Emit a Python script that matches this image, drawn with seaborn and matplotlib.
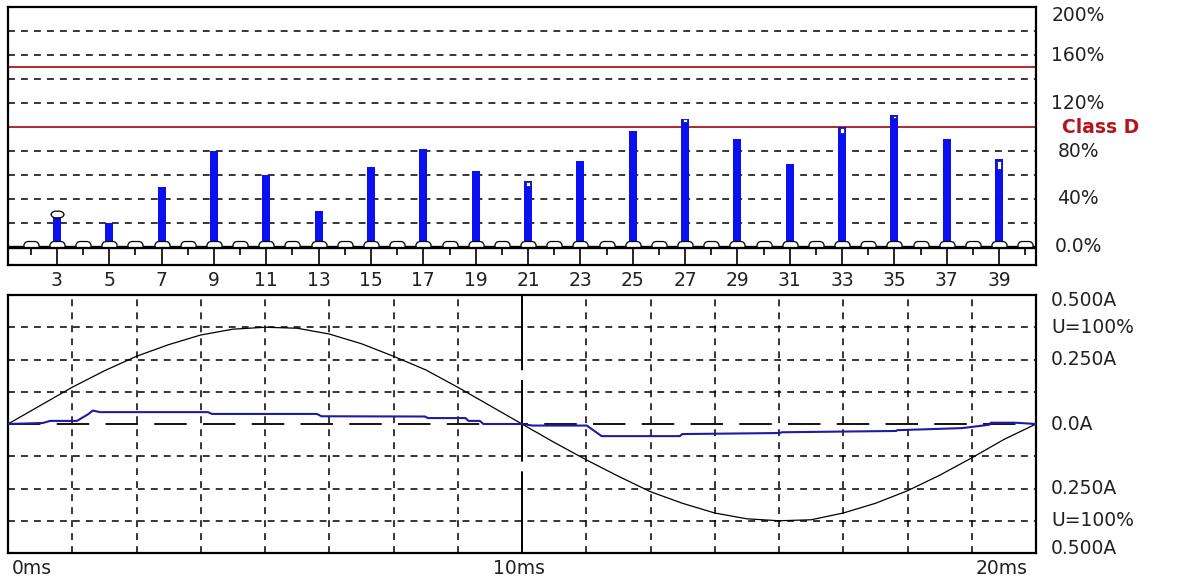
import matplotlib
matplotlib.use("Agg")
import matplotlib.pyplot as plt
from matplotlib.path import Path
import pandas as pd
import seaborn as sns

sns.set_style("white")
plt.rcParams["font.family"] = ["DejaVu Sans"]

# ---- harmonic spectrum (% of Class D limit) ----
harmonics = [3, 5, 7, 9, 11, 13, 15, 17, 19, 21, 23, 25, 27, 29, 31, 33, 35, 37, 39]
harm_pct = [25, 20, 50, 80, 60, 30, 67, 82, 63, 55, 72, 97, 107, 90, 69, 100, 110, 90, 73]
cap_harmonics = list(range(2, 41))
even_harmonics = list(range(2, 41, 2))
limit_h = [3]
limit_pct = [27.5]
mark_h = [21, 27, 33, 35, 39]
mark_lo = [51, 104, 95, 107.5, 65]
mark_hi = [54, 106.5, 99, 109, 72]
red_limits = [100, 150]
pct_grid = [20, 40, 60, 80, 120, 140, 160, 180]
pct_ticks = [200, 160, 120, 80, 40, 0]
pct_labels = ["200%", "160%", "120%", "80%", "40%", "0.0%"]

# ---- waveforms over one period ----
volt_t = [0, 0.625, 1.25, 1.875, 2.5, 3.125, 3.75, 4.375, 5.0, 5.625, 6.25, 6.875,
          7.5, 8.125, 8.75, 9.375, 10.0, 10.625, 11.25, 11.875, 12.5, 13.125, 13.75,
          14.375, 15.0, 15.625, 16.25, 16.875, 17.5, 18.125, 18.75, 19.375, 20.0]
volt_pct = [0, 19, 38, 55, 70, 82, 92, 98, 100, 99, 93, 83,
            70, 56, 38, 19, 0, -19, -37, -54, -70, -82, -92,
            -98, -100, -99, -92, -82, -69, -53, -35, -16, 0]
curr_t = [0, 0.68, 0.82, 1.34, 1.56, 1.65, 1.79, 3.89, 3.97, 6.01,
          6.10, 8.11, 8.17, 8.90, 8.96, 9.18, 9.25, 10.0, 10.2, 11.26,
          11.55, 13.07, 13.12, 15.01, 15.06, 17.28, 17.30, 18.55, 18.60, 19.09,
          19.12, 19.60, 20.0]
curr_a = [0, 0.004, 0.012, 0.012, 0.038, 0.052, 0.046, 0.046, 0.039, 0.039,
          0.030, 0.029, 0.023, 0.023, 0.012, 0.012, 0.0, 0.0, -0.006, -0.006,
          -0.047, -0.047, -0.039, -0.035, -0.032, -0.027, -0.024, -0.016, -0.015, -0.003,
          0.005, 0.005, 0.0]
amp_grid = [0.375, 0.25, 0.125, -0.125, -0.25, -0.375]
amp_ticks = [0.5, 0.375, 0.25, 0.0, -0.25, -0.375, -0.5]
amp_labels = ["0.500A", "U=100%", "0.250A", "0.0A", "0.250A", "U=100%", "0.500A"]
time_grid = [1.25, 2.5, 3.75, 5.0, 6.25, 7.5, 8.75, 11.25, 12.5, 13.75, 15.0, 16.25, 17.5, 18.75]
time_ticks = [0, 10, 20]
time_labels = ["0ms", "10ms", "20ms"]

U_SCALE = 0.375  # where U=100% sits on the current axis
BLUE = "#0a10f0"
NAVY = "#1c1ca8"
RED = "#b3141e"
TXT = "#222222"
FS = 13.5
GRID_LS = (0, (4.5, 4))

fig = plt.figure(figsize=(11.81, 5.83), dpi=100)
ax1 = fig.add_axes([8 / 1181, 1 - 265 / 583, 1028 / 1181, 258 / 583])
ax2 = fig.add_axes([8 / 1181, 1 - 553 / 583, 1028 / 1181, 258 / 583])

# ---------- top: harmonics ----------
for v in pct_grid:
    ax1.axhline(v, color="black", lw=1.1, ls=GRID_LS, zorder=1)
for v in red_limits:
    ax1.axhline(v, color=RED, lw=1.3, zorder=2)

df_h = pd.DataFrame({"h": harmonics, "pct": harm_pct})
sns.barplot(data=df_h, x="h", y="pct", native_scale=True, width=0.15, color=BLUE,
            saturation=1, errorbar=None, linewidth=0, ax=ax1, zorder=3)

ax1.bar(mark_h, [hi - lo for lo, hi in zip(mark_lo, mark_hi)], bottom=mark_lo,
        width=0.13, color="white", edgecolor="#20208a", linewidth=0.6, zorder=4)

ax1.vlines(harmonics, -15, 0, color="black", lw=1.2, zorder=3)
ax1.vlines(even_harmonics, -6.5, 0, color="black", lw=1.2, zorder=3)
ax1.axhline(0, color="black", lw=2.4, zorder=4)

cap = Path([(-1, 0), (1, 0), (1, 0.4), (0.8, 0.7), (0.5, 0.8), (-0.5, 0.8),
            (-0.8, 0.7), (-1, 0.4), (-1, 0)])
ax1.plot(cap_harmonics, [0] * len(cap_harmonics), ls="none", marker=cap, ms=10.8,
         mfc="white", mec="black", mew=0.9, zorder=5)
oval = Path([(-1, 0), (-0.8, 0.33), (-0.4, 0.5), (0.4, 0.5), (0.8, 0.33), (1, 0),
             (0.8, -0.33), (0.4, -0.5), (-0.4, -0.5), (-0.8, -0.33), (-1, 0)])
ax1.plot(limit_h, limit_pct, ls="none", marker=oval, ms=9.6,
         mfc="white", mec="black", mew=0.9, zorder=5)

ax1.set_xlim(1.13, 40.41)
ax1.set_ylim(-15, 200)
ax1.set_xticks(harmonics)
ax1.set_xticklabels([str(h) for h in harmonics])
ax1.tick_params(axis="x", length=0, pad=4.5, labelsize=FS, labelcolor=TXT)
ax1.set_yticks([])
ax1.set_xlabel("")
ax1.set_ylabel("")

for v, lab in zip(pct_ticks, pct_labels):
    dy = -6 if v == 200 else 0
    ax1.annotate(lab, xy=(1.0409, v), xycoords=ax1.get_yaxis_transform(),
                 xytext=(0, dy), textcoords="offset points",
                 ha="center", va="center", fontsize=FS, color=TXT, annotation_clip=False)
ax1.annotate("Class D", xy=(1.0253, red_limits[0]), xycoords=ax1.get_yaxis_transform(),
             ha="left", va="center", fontsize=FS, fontweight="bold", color=RED,
             annotation_clip=False)

# ---------- bottom: waveforms ----------
for v in amp_grid:
    ax2.axhline(v, color="black", lw=1.1, ls=GRID_LS, zorder=1)
for t in time_grid:
    ax2.axvline(t, color="black", lw=1.1, ls=GRID_LS, zorder=1)
ax2.axhline(0, color="black", lw=1.3, ls=(0, (18, 9)), zorder=1)
ax2.axvline(10, color="black", lw=1.4, ls=(0, (42, 5)), zorder=1)

sns.lineplot(x=volt_t, y=[p / 100 * U_SCALE for p in volt_pct], color="black", lw=0.9,
             estimator=None, sort=False, ax=ax2, zorder=3)
sns.lineplot(x=curr_t, y=curr_a, color=NAVY, lw=1.5,
             estimator=None, sort=False, ax=ax2, zorder=4)

ax2.set_xlim(0, 20)
ax2.set_ylim(-0.5, 0.5)
ax2.set_xticks([])
ax2.set_yticks([])

for v, lab in zip(amp_ticks, amp_labels):
    dy = -3.6 if v == 0.5 else (3.6 if v == -0.5 else 0)
    ax2.annotate(lab, xy=(1.0146, v), xycoords=ax2.get_yaxis_transform(),
                 xytext=(0, dy), textcoords="offset points",
                 ha="left", va="center", fontsize=FS, color=TXT, annotation_clip=False)

for t, lab, ha, dx in zip(time_ticks, time_labels, ["left", "center", "right"], [3, -2, -6]):
    ax2.annotate(lab, xy=(t, 0), xycoords=ax2.get_xaxis_transform(),
                 xytext=(dx, -11.5), textcoords="offset points",
                 ha=ha, va="center", fontsize=FS, color=TXT, annotation_clip=False)

for ax in (ax1, ax2):
    for s in ax.spines.values():
        s.set_visible(True)
        s.set_color("black")
        s.set_linewidth(1.6)

fig.savefig("out.png", dpi=100)
